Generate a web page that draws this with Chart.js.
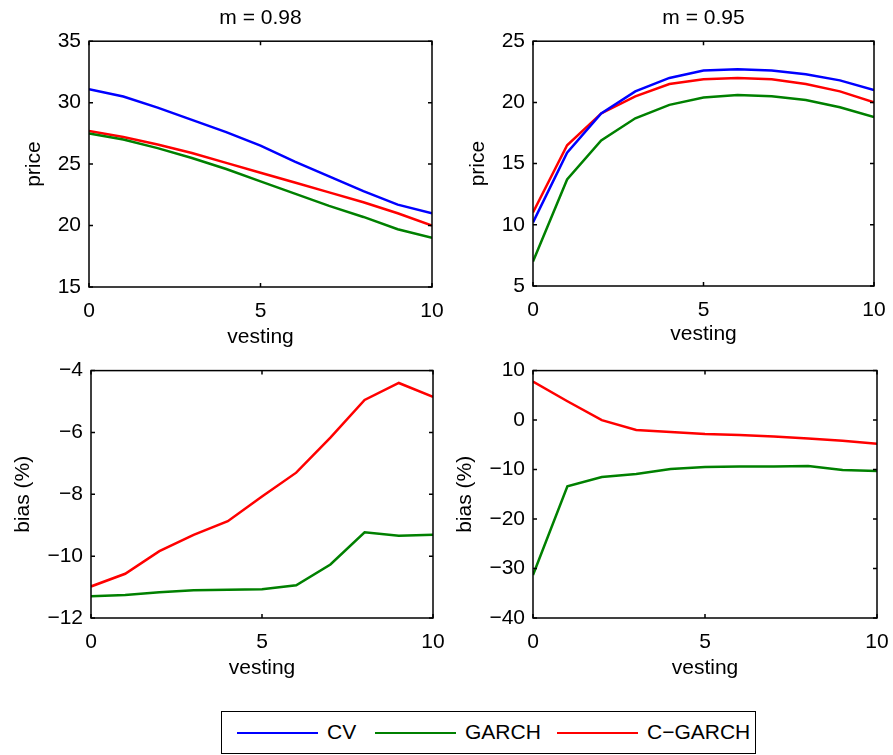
<!DOCTYPE html>
<html>
<head>
<meta charset="utf-8">
<script src="https://cdn.jsdelivr.net/npm/chart.js@4.4.1/dist/chart.umd.min.js"></script>
<style>
  body { margin: 0; background: #fff; width: 893px; height: 755px; position: relative; overflow: hidden; font-family: "Liberation Sans", Arial, sans-serif; }
  canvas { position: absolute; }
  #legend { position: absolute; left: 221px; top: 711px; width: 535px; height: 43px; border: 1px solid #000; box-sizing: border-box; }
  #legend .ln { position: absolute; top: 20px; height: 2px; width: 81px; }
  #legend .tx { position: absolute; top: 8px; font-size: 21px; line-height: 24px; color: #000; }
</style>
</head>
<body>
<canvas id="c1" width="446" height="350" style="left:0;top:0"></canvas>
<canvas id="c2" width="447" height="350" style="left:446px;top:0"></canvas>
<canvas id="c3" width="446" height="335" style="left:0;top:350px"></canvas>
<canvas id="c4" width="447" height="335" style="left:446px;top:350px"></canvas>
<div id="legend">
  <div class="ln" style="left:15px;background:#0000ff"></div><div class="tx" style="left:105px">CV</div>
  <div class="ln" style="left:153px;background:#008000"></div><div class="tx" style="left:243px">GARCH</div>
  <div class="ln" style="left:335px;background:#ff0000"></div><div class="tx" style="left:425px">C−GARCH</div>
</div>
<script>
// vesting period (x axis)
const vesting = [0, 1, 2, 3, 4, 5, 6, 7, 8, 9, 10];

// m = 0.98, price
const priceCV98    = [31.1, 30.5, 29.6, 28.6, 27.6, 26.5, 25.2, 24.0, 22.8, 21.7, 21.0];
const priceGARCH98 = [27.5, 27.0, 26.3, 25.5, 24.6, 23.6, 22.6, 21.6, 20.7, 19.7, 19.0];
const priceCG98    = [27.7, 27.2, 26.6, 25.9, 25.1, 24.3, 23.5, 22.7, 21.9, 21.0, 20.0];

// m = 0.95, price
const priceCV95    = [10.2, 15.9, 19.1, 20.9, 22.0, 22.6, 22.7, 22.6, 22.3, 21.8, 21.0];
const priceGARCH95 = [7.0, 13.7, 16.9, 18.7, 19.8, 20.4, 20.6, 20.5, 20.2, 19.6, 18.8];
const priceCG95    = [11.0, 16.5, 19.1, 20.5, 21.5, 21.9, 22.0, 21.9, 21.5, 20.9, 20.0];

// bias (%) relative to CV
const biasGARCH98 = [-11.30, -11.26, -11.17, -11.10, -11.09, -11.07, -10.94, -10.27, -9.23, -9.34, -9.31];
const biasCG98    = [-10.98, -10.57, -9.84, -9.31, -8.87, -8.07, -7.30, -6.17, -4.95, -4.40, -4.85];
const biasGARCH95 = [-31.3, -13.4, -11.5, -10.9, -9.9, -9.5, -9.4, -9.4, -9.3, -10.1, -10.3];
const biasCG95    = [7.8, 3.8, 0.0, -2.0, -2.4, -2.8, -3.0, -3.3, -3.7, -4.2, -4.8];

const BLUE = '#0000ff', GREEN = '#008000', RED = '#ff0000';

Chart.defaults.font.family = '"Liberation Sans", Arial, sans-serif';
Chart.defaults.font.size = 21;
Chart.defaults.color = '#000';

// MATLAB-like box with inward ticks on all sides
const boxTicks = {
  id: 'boxTicks',
  afterDraw(chart) {
    const { ctx, chartArea: a, scales: { x, y } } = chart;
    ctx.save();
    ctx.strokeStyle = '#000';
    ctx.lineWidth = 1.5;
    ctx.beginPath();
    x.ticks.forEach(t => {
      const px = x.getPixelForValue(t.value);
      ctx.moveTo(px, a.bottom); ctx.lineTo(px, a.bottom - 4);
      ctx.moveTo(px, a.top); ctx.lineTo(px, a.top + 4);
    });
    y.ticks.forEach(t => {
      const py = y.getPixelForValue(t.value);
      ctx.moveTo(a.left, py); ctx.lineTo(a.left + 4, py);
      ctx.moveTo(a.right, py); ctx.lineTo(a.right - 4, py);
    });
    ctx.stroke();
    ctx.strokeRect(a.left, a.top, a.right - a.left, a.bottom - a.top);
    ctx.restore();
  }
};

function series(values, color) {
  return {
    data: vesting.map((v, i) => ({ x: v, y: values[i] })),
    borderColor: color,
    borderWidth: 2.5,
    pointRadius: 0,
    tension: 0,
    fill: false
  };
}

function makeChart(id, opt) {
  new Chart(document.getElementById(id), {
    type: 'line',
    data: { datasets: opt.datasets },
    options: {
      responsive: false,
      animation: false,
      layout: { padding: { left: 0, right: opt.padRight, top: opt.padTop, bottom: 0 } },
      plugins: {
        legend: { display: false },
        tooltip: { enabled: false },
        title: {
          display: !!opt.title,
          text: opt.title,
          fullSize: false,
          font: { size: 21, weight: 'normal' },
          color: '#000',
          padding: { top: 6, bottom: 10 }
        }
      },
      scales: {
        x: {
          type: 'linear',
          min: 0, max: 10,
          grid: { display: false, drawTicks: false, tickLength: 0 },
          border: { display: false },
          ticks: { stepSize: 5, padding: 12 },
          title: { display: true, text: 'vesting', padding: { top: 0, bottom: opt.xTitlePad } },
          afterFit: s => { s.height = opt.xHeight; s.paddingLeft = 0; s.paddingRight = 0; }
        },
        y: {
          min: opt.yMin, max: opt.yMax,
          grid: { display: false, drawTicks: false, tickLength: 0 },
          border: { display: false },
          ticks: {
            stepSize: opt.yStep,
            padding: 8,
            callback: v => String(v).replace('-', '\u2212')
          },
          title: { display: true, text: opt.yTitle, padding: { top: opt.yTitlePad, bottom: 0 } },
          afterFit: s => { s.width = opt.yWidth; }
        }
      }
    },
    plugins: [boxTicks]
  });
}

makeChart('c1', {
  title: 'm = 0.98', yTitle: 'price',
  yMin: 15, yMax: 35, yStep: 5,
  padTop: 0, padRight: 14, yWidth: 89, yTitlePad: 22, xHeight: 63, xTitlePad: 0,
  datasets: [series(priceCV98, BLUE), series(priceGARCH98, GREEN), series(priceCG98, RED)]
});

makeChart('c2', {
  title: 'm = 0.95', yTitle: 'price',
  yMin: 5, yMax: 25, yStep: 5,
  padTop: 0, padRight: 19, yWidth: 87, yTitlePad: 20, xHeight: 64, xTitlePad: 3,
  datasets: [series(priceCV95, BLUE), series(priceGARCH95, GREEN), series(priceCG95, RED)]
});

makeChart('c3', {
  title: '', yTitle: 'bias (%)',
  yMin: -12, yMax: -4, yStep: 2,
  padTop: 19, padRight: 13, yWidth: 91, yTitlePad: 11, xHeight: 67, xTitlePad: 4,
  datasets: [series(biasGARCH98, GREEN), series(biasCG98, RED)]
});

makeChart('c4', {
  title: '', yTitle: 'bias (%)',
  yMin: -40, yMax: 10, yStep: 10,
  padTop: 19, padRight: 16, yWidth: 87, yTitlePad: 7, xHeight: 67, xTitlePad: 4,
  datasets: [series(biasGARCH95, GREEN), series(biasCG95, RED)]
});
</script>
</body>
</html>
